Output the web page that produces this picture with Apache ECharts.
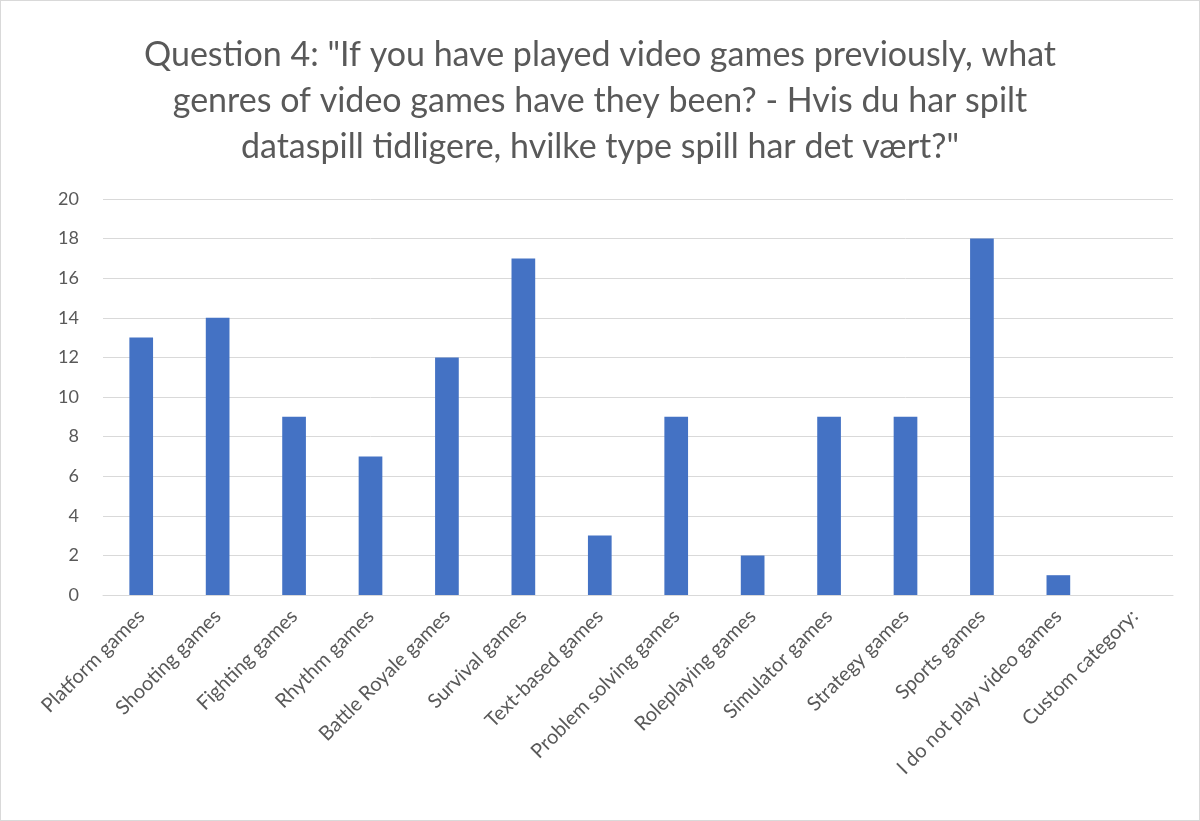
<!DOCTYPE html>
<html>
<head>
<meta charset="utf-8">
<script src="https://cdn.jsdelivr.net/npm/echarts@6/dist/echarts.min.js"></script>
<style>
  html, body { margin: 0; padding: 0; background: #fff; }
  #chart { width: 1200px; height: 821px; box-sizing: border-box; border: 1px solid #d9d9d9; }
</style>
</head>
<body>
<div id="chart"></div>
<script>
// categories and counts
var genres = ['Platform games', 'Shooting games', 'Fighting games', 'Rhythm games',
  'Battle Royale games', 'Survival games', 'Text-based games', 'Problem solving games',
  'Roleplaying games', 'Simulator games', 'Strategy games', 'Sports games',
  'I do not play video games', 'Custom category:'];
var counts = [13, 14, 9, 7, 12, 17, 3, 9, 2, 9, 9, 18, 1, 0];
var yTicks = [0, 2, 4, 6, 8, 10, 12, 14, 16, 18, 20];

var titleText = 'Question 4: "If you have played video games previously, what\n' +
  'genres of video games have they been? - Hvis du har spilt\n' +
  'dataspill tidligere, hvilke type spill har det vært?"';

var font = 'Lato, "Open Sans", sans-serif';

var chart = echarts.init(document.getElementById('chart'));
chart.setOption({
  animation: false,
  title: {
    text: titleText,
    left: 'center',
    top: 26,
    textStyle: { color: '#595959', fontSize: 34, fontWeight: 'normal', fontFamily: font, lineHeight: 46 }
  },
  grid: { left: 102, right: 26, top: 198, bottom: 225 },
  xAxis: {
    type: 'category',
    data: genres,
    axisTick: { show: false },
    axisLine: { lineStyle: { color: '#d9d9d9' } },
    axisLabel: { interval: 0, rotate: 45, color: '#595959', fontSize: 20, fontFamily: font, margin: 18 }
  },
  yAxis: {
    type: 'value',
    min: yTicks[0],
    max: yTicks[yTicks.length - 1],
    interval: 2,
    axisLine: { show: false },
    axisTick: { show: false },
    splitLine: { lineStyle: { color: '#d9d9d9' } },
    axisLabel: { color: '#595959', fontSize: 18, fontFamily: font, margin: 24 }
  },
  series: [{
    type: 'bar',
    data: counts,
    barWidth: '31%',
    itemStyle: { color: '#4472c4' }
  }]
});
</script>
</body>
</html>
